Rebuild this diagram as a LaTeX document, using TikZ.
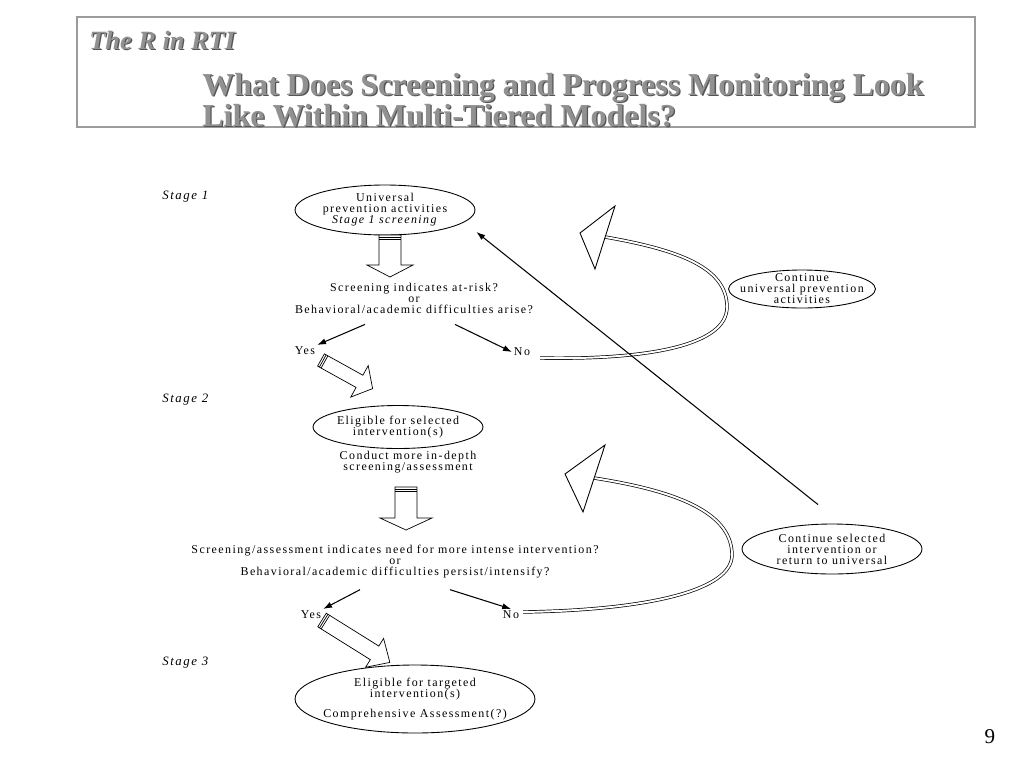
\documentclass[tikz,border=0pt]{standalone}
\usepackage{fontspec}
\setmainfont{Liberation Serif}
\newfontfamily\dgfont[LetterSpace=12]{Liberation Serif}
\usetikzlibrary{shapes.geometric,arrows.meta,calc}

\definecolor{ttlgray}{RGB}{145,145,145}
\definecolor{ttlshade}{RGB}{85,85,85}
\definecolor{boxgray}{RGB}{155,155,155}

\tikzset{
  oval/.style={draw, ellipse, inner sep=0pt, line width=0.5pt},
  dtxt/.style={font=\dgfont\fontsize{6.8}{6.3}\selectfont, align=center, inner sep=1pt},
  stage/.style={font=\dgfont\fontsize{7.3}{8}\selectfont\itshape, anchor=west, inner sep=0pt},
  ttl/.style={text=ttlgray, anchor=base west, inner sep=0pt},
  ttlshade/.style={text=ttlshade, anchor=base west, inner sep=0pt},
  smallarr/.style={-{Latex[length=5pt,width=3.5pt]}, line width=0.6pt},
  loop/.style={double, double distance=1.1pt, line width=0.4pt},
  bighead/.style={draw, fill=white, line width=0.5pt, line join=miter},
  pics/blockarrow/.style n args={4}{code={
    \draw[fill=white, line width=0.4pt] (-#3,0) -- (-#3,#1-#2) -- (-#4,#1-#2) -- (0,#1)
      -- (#4,#1-#2) -- (#3,#1-#2) -- (#3,0) -- cycle;
    \draw[line width=0.4pt] (-#3,2) -- (#3,2) (-#3,4) -- (#3,4);
  }},
}

\begin{document}
\begin{tikzpicture}[x=0.02cm, y=-0.02cm]
  \fill[white] (0,0) rectangle (1024,768);
  \useasboundingbox (0,0) rectangle (1024,768);

  % title box
  \draw[boxgray, line width=0.9pt] (77,17) rectangle (975,127);
  \node[ttlshade, font=\fontsize{15}{17}\selectfont\bfseries\itshape] at (90.2,50.2) {The R in RTI};
  \node[ttl, font=\fontsize{15}{17}\selectfont\bfseries\itshape] (rti) at (89,49) {The R in RTI};
  \node[ttlshade, font=\fontsize{18.2}{20}\selectfont\bfseries] at (203.3,96.3) {What Does Screening and Progress Monitoring Look};
  \node[ttl, font=\fontsize{18.2}{20}\selectfont\bfseries] (ttlA) at (202,95) {What Does Screening and Progress Monitoring Look};
  \node[ttlshade, font=\fontsize{18.2}{20}\selectfont\bfseries] at (203.3,127.3) {Like Within Multi-Tiered Models?};
  \node[ttl, font=\fontsize{18.2}{20}\selectfont\bfseries] (ttlB) at (202,126) {Like Within Multi-Tiered Models?};

  % stage 1
  \node[stage] (st1) at (162,197) {Stage 1};
  \node[oval, minimum width=3.6cm, minimum height=1cm] (univ) at (385,210) {};
  \node[dtxt] at (univ) {Universal\\prevention activities\\\textit{Stage 1 screening}};
  \pic at (390,235) {blockarrow={42}{12}{11}{23}};
  \node[dtxt] (q1) at (414,298) {Screening indicates at-risk?\\or\\Behavioral/academic difficulties arise?};
  \node[dtxt] (yes1) at (305,351) {Yes};
  \node[dtxt] (no1) at (522,352) {No};
  \draw[smallarr] ($(q1.south)+(-49,9)$) -- (yes1.north east);
  \draw[smallarr] ($(q1.south)+(41,9)$) -- (no1.west);
  \pic[rotate=61] at (321,360) {blockarrow={59}{15}{7}{18}};

  % loop back to universal
  \node[oval, minimum width=2.94cm, minimum height=0.76cm] (cont1) at (802,289) {};
  \node[dtxt] at (cont1) {Continue\\universal prevention\\activities};
  \coordinate (hd1) at (605,237);
  \draw[loop] ($(no1.east)+(8,6)$) .. controls (650,360) and (727,345) .. (727,307)
    .. controls (727,268) and (680,250) .. (hd1);
  \draw[bighead] (615,206) -- (580,233) -- (595,269) -- cycle;

  % stage 2
  \node[stage] (st2) at (162,400) {Stage 2};
  \node[oval, minimum width=3.4cm, minimum height=0.86cm] (sel) at (398,427) {};
  \node[dtxt] at (sel) {Eligible for selected\\intervention(s)};
  \node[dtxt] (conduct) at (408,462) {Conduct more in-depth\\screening/assessment};
  \pic at (406,487) {blockarrow={43}{12}{11}{26}};
  \node[dtxt] (q2) at (395,562) {Screening/assessment indicates need for more intense intervention?\\or\\Behavioral/academic difficulties persist/intensify?};
  \node[dtxt] (yes2) at (311,615) {Yes};
  \node[dtxt] (no2) at (511,615) {No};
  \draw[smallarr] ($(q2.south)+(-35,9)$) -- (yes2.north east);
  \draw[smallarr] ($(q2.south)+(55,9)$) -- (no2.north);
  \pic[rotate=58] at (322,620) {blockarrow={80}{18}{8}{17}};

  % loop back to selected
  \node[oval, minimum width=3.6cm, minimum height=1cm] (cont2) at (832,549) {};
  \node[dtxt] at (cont2) {Continue selected\\intervention or\\return to universal};
  \coordinate (hd2) at (594,478);
  \draw[loop] ($(no2.east)+(2,-3)$) .. controls (650,610) and (732,590) .. (732,555)
    .. controls (732,510) and (670,490) .. (hd2);
  \draw[bighead] (605,445) -- (565,474) -- (583,512) -- cycle;
  \draw[smallarr] ($(cont2.north)+(-14,-19)$) -- ($(univ.east)+(1,22)$);

  % stage 3
  \node[stage] (st3) at (162,663) {Stage 3};
  \node[oval, minimum width=4.8cm, minimum height=1.36cm] (tgt) at (415,699) {};
  \node[dtxt] at (tgt) {Eligible for targeted\\intervention(s)\\[5pt]Comprehensive Assessment(?)};

  \node[font=\fontsize{12}{14}\selectfont] (pg) at (990,737) {9};
\end{tikzpicture}
\end{document}
